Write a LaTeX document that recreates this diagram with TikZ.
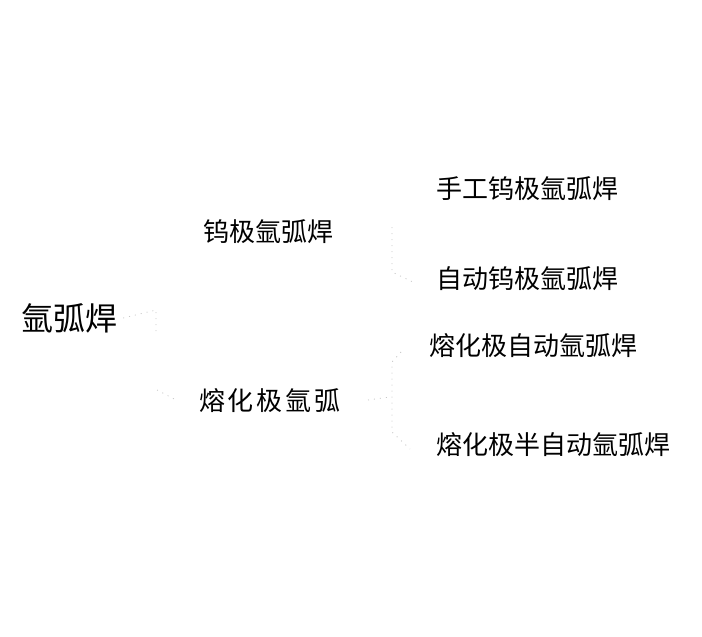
\documentclass[tikz,border=0pt]{standalone}
\usepackage{fontspec}
\newfontfamily\cjk{Noto Sans CJK SC}
\begin{document}
\begin{tikzpicture}[x=1pt,y=-1pt,
  lbl/.style={font=\cjk\fontsize{26}{30}\selectfont, text=black, inner sep=0pt, anchor=center},
  big/.style={font=\cjk\fontsize{32}{36}\selectfont, text=black, inner sep=0pt, anchor=center},
  faint/.style={draw=black!22, line width=0.8pt, dash pattern=on 1pt off 5pt}]
\useasboundingbox (0,0) rectangle (702,637);
\node[big] (root) at (69,318) {氩弧焊};
\node[lbl] (w) at (268,232) {钨极氩弧焊};
\node[lbl] (m) at (270,401) {熔\hspace{3pt}化\hspace{3pt}极\hspace{3pt}氩\hspace{3pt}弧};
\node[lbl] (w1) at (527,189) {手工钨极氩弧焊};
\node[lbl] (w2) at (527,279) {自动钨极氩弧焊};
\node[lbl] (m1) at (533,346) {熔化极自动氩弧焊};
\node[lbl] (m2) at (553,445) {熔化极半自动氩弧焊};
% left brace
\coordinate (r2) at (156,310);
\coordinate (r3) at (156,332);
\coordinate (r4) at (157,390);
\coordinate (r5) at (176,400);
\draw[faint] (root.east) ++(6,0) -- (r2) -- (r3);
\draw[faint] (r4) -- (r5);
% top right brace
\coordinate (a1) at (392,227);
\coordinate (a2) at (392,272);
\coordinate (a3) at (415,283);
\draw[faint] (a1) -- (a2) -- (a3);
% bottom right brace
\coordinate (b1) at (401,352);
\coordinate (b2) at (392,362);
\coordinate (b3) at (392,432);
\coordinate (b4) at (410,449);
\coordinate (b5) at (368,400);
\coordinate (b6) at (390,397);
\draw[faint] (b1) -- (b2) -- (b3) -- (b4);
\draw[faint] (b5) -- (b6);
\end{tikzpicture}
\end{document}
